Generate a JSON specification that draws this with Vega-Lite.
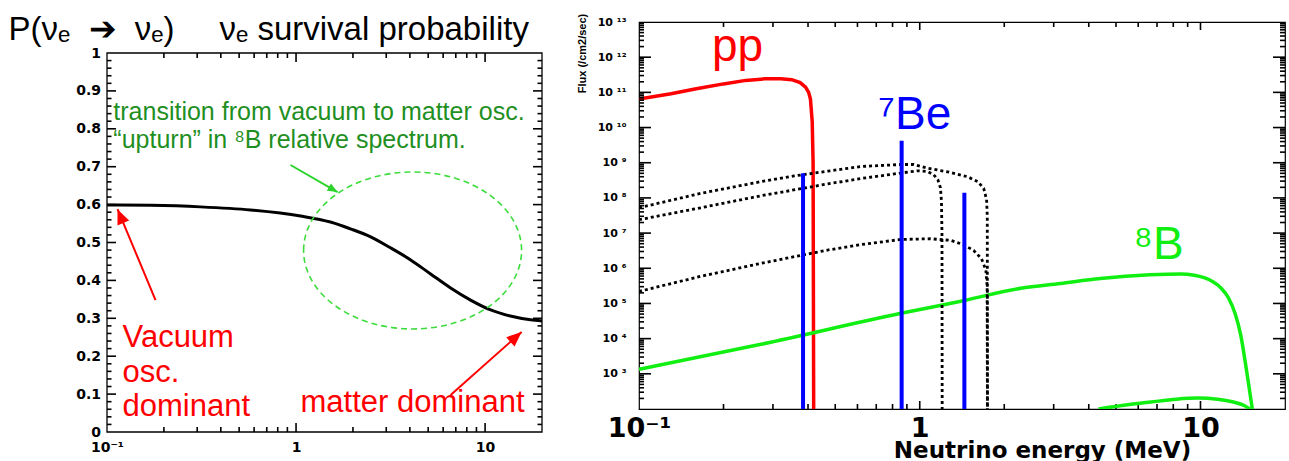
{
  "$schema": "https://vega.github.io/schema/vega-lite/v6.json",
  "background": "white",
  "padding": {"left": 8, "top": 12, "right": 4, "bottom": 0},
  "spacing": 32,
  "config": {
    "view": {"stroke": "#000000", "strokeWidth": 1.2},
    "axis": {"grid": false, "domain": false, "labelColor": "#000000", "titleColor": "#000000"},
    "font": "Liberation Sans"
  },
  "resolve": {"scale": {"color": "independent"}},
  "datasets": {
    "heading": [
      {"label": "P(νₑ\u00a0\u00a0➔\u00a0\u00a0νₑ)", "E": 0.0301, "P": 1.034},
      {"label": "νₑ survival probability", "E": 0.3937, "P": 1.034}
    ],
    "frame": [{"E0": 0.1, "E1": 20, "P0": 0, "P1": 1}],
    "xMajor": [{"v": 1}, {"v": 10}],
    "xMinor": [
      {"v": 0.2}, {"v": 0.3}, {"v": 0.4}, {"v": 0.5}, {"v": 0.6}, {"v": 0.7}, {"v": 0.8}, {"v": 0.9},
      {"v": 2}, {"v": 3}, {"v": 4}, {"v": 5}, {"v": 6}, {"v": 7}, {"v": 8}, {"v": 9}
    ],
    "pMajor": [{"v": 0.1}, {"v": 0.2}, {"v": 0.3}, {"v": 0.4}, {"v": 0.5}, {"v": 0.6}, {"v": 0.7}, {"v": 0.8}, {"v": 0.9}],
    "pMinor": [
      {"v": 0.02}, {"v": 0.04}, {"v": 0.06}, {"v": 0.08}, {"v": 0.12}, {"v": 0.14}, {"v": 0.16}, {"v": 0.18},
      {"v": 0.22}, {"v": 0.24}, {"v": 0.26}, {"v": 0.28}, {"v": 0.32}, {"v": 0.34}, {"v": 0.36}, {"v": 0.38},
      {"v": 0.42}, {"v": 0.44}, {"v": 0.46}, {"v": 0.48}, {"v": 0.52}, {"v": 0.54}, {"v": 0.56}, {"v": 0.58},
      {"v": 0.62}, {"v": 0.64}, {"v": 0.66}, {"v": 0.68}, {"v": 0.72}, {"v": 0.74}, {"v": 0.76}, {"v": 0.78},
      {"v": 0.82}, {"v": 0.84}, {"v": 0.86}, {"v": 0.88}, {"v": 0.92}, {"v": 0.94}, {"v": 0.96}, {"v": 0.98}
    ],
    "fMajor": [{"v": 1e3}, {"v": 1e4}, {"v": 1e5}, {"v": 1e6}, {"v": 1e7}, {"v": 1e8}, {"v": 1e9}, {"v": 1e10}, {"v": 1e11}, {"v": 1e12}],
    "fMinor": [
      {"v": 2e2}, {"v": 3e2}, {"v": 4e2}, {"v": 5e2}, {"v": 6e2}, {"v": 7e2}, {"v": 8e2}, {"v": 9e2},
      {"v": 2e3}, {"v": 3e3}, {"v": 4e3}, {"v": 5e3}, {"v": 6e3}, {"v": 7e3}, {"v": 8e3}, {"v": 9e3},
      {"v": 2e4}, {"v": 3e4}, {"v": 4e4}, {"v": 5e4}, {"v": 6e4}, {"v": 7e4}, {"v": 8e4}, {"v": 9e4},
      {"v": 2e5}, {"v": 3e5}, {"v": 4e5}, {"v": 5e5}, {"v": 6e5}, {"v": 7e5}, {"v": 8e5}, {"v": 9e5},
      {"v": 2e6}, {"v": 3e6}, {"v": 4e6}, {"v": 5e6}, {"v": 6e6}, {"v": 7e6}, {"v": 8e6}, {"v": 9e6},
      {"v": 2e7}, {"v": 3e7}, {"v": 4e7}, {"v": 5e7}, {"v": 6e7}, {"v": 7e7}, {"v": 8e7}, {"v": 9e7},
      {"v": 2e8}, {"v": 3e8}, {"v": 4e8}, {"v": 5e8}, {"v": 6e8}, {"v": 7e8}, {"v": 8e8}, {"v": 9e8},
      {"v": 2e9}, {"v": 3e9}, {"v": 4e9}, {"v": 5e9}, {"v": 6e9}, {"v": 7e9}, {"v": 8e9}, {"v": 9e9},
      {"v": 2e10}, {"v": 3e10}, {"v": 4e10}, {"v": 5e10}, {"v": 6e10}, {"v": 7e10}, {"v": 8e10}, {"v": 9e10},
      {"v": 2e11}, {"v": 3e11}, {"v": 4e11}, {"v": 5e11}, {"v": 6e11}, {"v": 7e11}, {"v": 8e11}, {"v": 9e11},
      {"v": 2e12}, {"v": 3e12}, {"v": 4e12}, {"v": 5e12}, {"v": 6e12}, {"v": 7e12}, {"v": 8e12}, {"v": 9e12}
    ],
    "survival": [
      {"E": 0.1, "P": 0.599}, {"E": 0.17, "P": 0.598}, {"E": 0.312, "P": 0.594}, {"E": 0.574, "P": 0.586},
      {"E": 1.057, "P": 0.570}, {"E": 1.52, "P": 0.554}, {"E": 1.94, "P": 0.536}, {"E": 2.48, "P": 0.515},
      {"E": 3.16, "P": 0.486}, {"E": 4.04, "P": 0.454}, {"E": 5.15, "P": 0.417}, {"E": 6.57, "P": 0.380},
      {"E": 8.38, "P": 0.348}, {"E": 10.7, "P": 0.322}, {"E": 13.6, "P": 0.306}, {"E": 17.4, "P": 0.296},
      {"E": 20, "P": 0.293}
    ],
    "ellipse": [{"E": 4.135, "P": 0.479}],
    "arrows": [
      {"arrow": "vacuum", "E": 0.1806, "P": 0.348, "E2": 0.1137, "P2": 0.588},
      {"arrow": "matter", "E": 6.57, "P": 0.0976, "E2": 15.6, "P2": 0.264},
      {"arrow": "transition", "E": 0.935, "P": 0.7045, "E2": 1.658, "P2": 0.633}
    ],
    "notesTransition": [
      {"label": "transition from vacuum to matter osc.", "E": 0.108, "P": 0.823},
      {"label": "“upturn” in ⁸B relative spectrum.", "E": 0.108, "P": 0.75}
    ],
    "notesRegime": [
      {"label": "Vacuum\nosc.\ndominant", "E": 0.1208, "P": 0.224},
      {"label": "matter dominant", "E": 1.056, "P": 0.053}
    ],
    "pp": [
      {"E": 0.1, "F": 6.5e10}, {"E": 0.13, "F": 9.1e10}, {"E": 0.16, "F": 1.26e11}, {"E": 0.2, "F": 1.74e11},
      {"E": 0.24, "F": 2.19e11}, {"E": 0.28, "F": 2.42e11}, {"E": 0.32, "F": 2.45e11}, {"E": 0.35, "F": 2.29e11},
      {"E": 0.375, "F": 1.9e11}, {"E": 0.392, "F": 1.41e11}, {"E": 0.402, "F": 1.0e11}, {"E": 0.408, "F": 6.5e10},
      {"E": 0.414, "F": 1.45e10}, {"E": 0.417, "F": 1e9}, {"E": 0.419, "F": 100}
    ],
    "b8": [
      {"E": 0.1, "F": 1350}, {"E": 0.272, "F": 6900}, {"E": 0.857, "F": 52500}, {"E": 1.43, "F": 120000},
      {"E": 2.29, "F": 270000}, {"E": 3.17, "F": 370000}, {"E": 4.4, "F": 510000}, {"E": 6.6, "F": 650000},
      {"E": 8.5, "F": 690000}, {"E": 9.5, "F": 630000}, {"E": 10.7, "F": 480000}, {"E": 11.8, "F": 280000},
      {"E": 12.6, "F": 141000}, {"E": 13.3, "F": 50000}, {"E": 13.9, "F": 13000}, {"E": 14.6, "F": 1200},
      {"E": 15.3, "F": 100}
    ],
    "hep": [
      {"E": 4.33, "F": 100}, {"E": 5.5, "F": 132}, {"E": 6.66, "F": 158}, {"E": 8.2, "F": 190},
      {"E": 9.8, "F": 204}, {"E": 11.5, "F": 190}, {"E": 13.1, "F": 158}, {"E": 14.3, "F": 126}, {"E": 15.0, "F": 100}
    ],
    "cno": [
      {"src": "O15", "E": 0.1, "F": 5.25e7}, {"src": "O15", "E": 0.166, "F": 1.35e8}, {"src": "O15", "E": 0.272, "F": 2.9e8},
      {"src": "O15", "E": 0.356, "F": 4.2e8}, {"src": "O15", "E": 0.47, "F": 5.75e8}, {"src": "O15", "E": 0.617, "F": 7.8e8},
      {"src": "O15", "E": 0.857, "F": 8.9e8}, {"src": "O15", "E": 0.952, "F": 8.9e8}, {"src": "O15", "E": 1.066, "F": 7.0e8},
      {"src": "O15", "E": 1.257, "F": 5.5e8}, {"src": "O15", "E": 1.48, "F": 4.0e8}, {"src": "O15", "E": 1.61, "F": 2.9e8},
      {"src": "O15", "E": 1.69, "F": 1.86e8}, {"src": "O15", "E": 1.73, "F": 9e7}, {"src": "O15", "E": 1.74, "F": 3e7},
      {"src": "O15", "E": 1.743, "F": 100},
      {"src": "N13", "E": 0.1, "F": 2.4e7}, {"src": "N13", "E": 0.166, "F": 5.25e7}, {"src": "N13", "E": 0.272, "F": 1.15e8},
      {"src": "N13", "E": 0.47, "F": 2.5e8}, {"src": "N13", "E": 0.617, "F": 3.55e8}, {"src": "N13", "E": 0.857, "F": 5.1e8},
      {"src": "N13", "E": 0.984, "F": 5.9e8}, {"src": "N13", "E": 1.066, "F": 5.6e8}, {"src": "N13", "E": 1.12, "F": 4.6e8},
      {"src": "N13", "E": 1.16, "F": 3.3e8}, {"src": "N13", "E": 1.185, "F": 1.95e8}, {"src": "N13", "E": 1.195, "F": 7.9e7},
      {"src": "N13", "E": 1.2, "F": 1e7}, {"src": "N13", "E": 1.202, "F": 100},
      {"src": "F17", "E": 0.1, "F": 2.2e5}, {"src": "F17", "E": 0.166, "F": 5.9e5}, {"src": "F17", "E": 0.272, "F": 1.38e6},
      {"src": "F17", "E": 0.47, "F": 3.3e6}, {"src": "F17", "E": 0.617, "F": 4.7e6}, {"src": "F17", "E": 0.857, "F": 6.6e6},
      {"src": "F17", "E": 1.092, "F": 6.9e6}, {"src": "F17", "E": 1.29, "F": 6.2e6}, {"src": "F17", "E": 1.43, "F": 4.7e6},
      {"src": "F17", "E": 1.557, "F": 3.2e6}, {"src": "F17", "E": 1.66, "F": 1.86e6}, {"src": "F17", "E": 1.72, "F": 8.9e5},
      {"src": "F17", "E": 1.738, "F": 3.2e5}, {"src": "F17", "E": 1.742, "F": 100}
    ],
    "lines": [
      {"source": "Be7", "E": 0.384, "F": 5.0e8},
      {"source": "Be7", "E": 0.862, "F": 4.2e9},
      {"source": "pep", "E": 1.442, "F": 1.4e8}
    ],
    "labels": [
      {"label": "pp", "E": 0.2245, "F": 7.8e11},
      {"label": "⁷Be", "E": 0.96, "F": 9.2e9},
      {"label": "⁸B", "E": 7.09, "F": 1.78e6}
    ]
  },
  "hconcat": [
    {
      "width": 435,
      "height": 410,
      "view": {"stroke": null},
      "resolve": {"axis": {"x": "independent", "y": "independent"}},
      "layer": [
        {
          "data": {"name": "frame"},
          "mark": {"type": "rect", "filled": false, "stroke": "#000000", "strokeWidth": 1.3},
          "encoding": {
            "x": {"field": "E0", "type": "quantitative", "scale": {"type": "log", "domain": [0.1, 20], "nice": false},
              "axis": {"orient": "bottom", "values": [0.1, 1, 10], "labelExpr": "datum.value < 0.5 ? '10⁻¹' : datum.value < 5 ? '1' : '10'",
                "ticks": false, "labelPadding": 8, "labelFont": "DejaVu Sans", "labelFontWeight": "bold", "labelFontSize": 14,
                "labelFlush": false, "labelOverlap": false, "title": null}},
            "x2": {"field": "E1"},
            "y": {"field": "P0", "type": "quantitative", "scale": {"domain": [0, 1.0818], "nice": false, "zero": false},
              "axis": {"orient": "left", "values": [0, 0.1, 0.2, 0.3, 0.4, 0.5, 0.6, 0.7, 0.8, 0.9, 1], "format": ".1~f",
                "ticks": false, "labelPadding": 6.5, "labelFont": "DejaVu Sans", "labelFontWeight": "bold", "labelFontSize": 14,
                "labelOverlap": false, "title": null}},
            "y2": {"field": "P1"}
          }
        },
        {
          "data": {"name": "xMajor"},
          "mark": {"type": "rule", "color": "#000000", "strokeWidth": 1.6, "y2Offset": -9},
          "encoding": {
            "x": {"field": "v", "type": "quantitative", "scale": {"type": "log", "domain": [0.1, 20], "nice": false}, "axis": null},
            "y": {"datum": 0, "type": "quantitative", "scale": {"domain": [0, 1.0818], "nice": false, "zero": false}, "axis": null},
            "y2": {"datum": 0}
          }
        },
        {
          "data": {"name": "xMajor"},
          "mark": {"type": "rule", "color": "#000000", "strokeWidth": 1.6, "y2Offset": 9},
          "encoding": {
            "x": {"field": "v", "type": "quantitative", "scale": {"type": "log", "domain": [0.1, 20], "nice": false}, "axis": null},
            "y": {"datum": 1, "type": "quantitative", "scale": {"domain": [0, 1.0818], "nice": false, "zero": false}, "axis": null},
            "y2": {"datum": 1}
          }
        },
        {
          "data": {"name": "xMinor"},
          "mark": {"type": "rule", "color": "#000000", "strokeWidth": 1.6, "y2Offset": -5},
          "encoding": {
            "x": {"field": "v", "type": "quantitative", "scale": {"type": "log", "domain": [0.1, 20], "nice": false}, "axis": null},
            "y": {"datum": 0, "type": "quantitative", "scale": {"domain": [0, 1.0818], "nice": false, "zero": false}, "axis": null},
            "y2": {"datum": 0}
          }
        },
        {
          "data": {"name": "xMinor"},
          "mark": {"type": "rule", "color": "#000000", "strokeWidth": 1.6, "y2Offset": 5},
          "encoding": {
            "x": {"field": "v", "type": "quantitative", "scale": {"type": "log", "domain": [0.1, 20], "nice": false}, "axis": null},
            "y": {"datum": 1, "type": "quantitative", "scale": {"domain": [0, 1.0818], "nice": false, "zero": false}, "axis": null},
            "y2": {"datum": 1}
          }
        },
        {
          "data": {"name": "pMajor"},
          "mark": {"type": "rule", "color": "#000000", "strokeWidth": 1.6, "x2Offset": 9},
          "encoding": {
            "y": {"field": "v", "type": "quantitative", "scale": {"domain": [0, 1.0818], "nice": false, "zero": false}, "axis": null},
            "x": {"datum": 0.1, "type": "quantitative", "scale": {"type": "log", "domain": [0.1, 20], "nice": false}, "axis": null},
            "x2": {"datum": 0.1}
          }
        },
        {
          "data": {"name": "pMajor"},
          "mark": {"type": "rule", "color": "#000000", "strokeWidth": 1.6, "x2Offset": -9},
          "encoding": {
            "y": {"field": "v", "type": "quantitative", "scale": {"domain": [0, 1.0818], "nice": false, "zero": false}, "axis": null},
            "x": {"datum": 20, "type": "quantitative", "scale": {"type": "log", "domain": [0.1, 20], "nice": false}, "axis": null},
            "x2": {"datum": 20}
          }
        },
        {
          "data": {"name": "pMinor"},
          "mark": {"type": "rule", "color": "#000000", "strokeWidth": 1.6, "x2Offset": 4.5},
          "encoding": {
            "y": {"field": "v", "type": "quantitative", "scale": {"domain": [0, 1.0818], "nice": false, "zero": false}, "axis": null},
            "x": {"datum": 0.1, "type": "quantitative", "scale": {"type": "log", "domain": [0.1, 20], "nice": false}, "axis": null},
            "x2": {"datum": 0.1}
          }
        },
        {
          "data": {"name": "pMinor"},
          "mark": {"type": "rule", "color": "#000000", "strokeWidth": 1.6, "x2Offset": -4.5},
          "encoding": {
            "y": {"field": "v", "type": "quantitative", "scale": {"domain": [0, 1.0818], "nice": false, "zero": false}, "axis": null},
            "x": {"datum": 20, "type": "quantitative", "scale": {"type": "log", "domain": [0.1, 20], "nice": false}, "axis": null},
            "x2": {"datum": 20}
          }
        },
        {
          "data": {"name": "survival"},
          "mark": {"type": "line", "color": "#000000", "strokeWidth": 3, "interpolate": "monotone", "clip": true},
          "encoding": {
            "x": {"field": "E", "type": "quantitative", "scale": {"type": "log", "domain": [0.1, 20], "nice": false}, "axis": null},
            "y": {"field": "P", "type": "quantitative", "scale": {"domain": [0, 1.0818], "nice": false, "zero": false}, "axis": null}
          }
        },
        {
          "data": {"name": "ellipse"},
          "mark": {"type": "point", "shape": "M -1 0 C -1 -0.398 -0.552 -0.72 0 -0.72 C 0.552 -0.72 1 -0.398 1 0 C 1 0.398 0.552 0.72 0 0.72 C -0.552 0.72 -1 0.398 -1 0 Z",
            "size": 47524, "filled": false, "color": "#3ddc3d", "strokeWidth": 1.6, "strokeDash": [6, 4], "opacity": 1},
          "encoding": {
            "x": {"field": "E", "type": "quantitative", "scale": {"type": "log", "domain": [0.1, 20], "nice": false}, "axis": null},
            "y": {"field": "P", "type": "quantitative", "scale": {"domain": [0, 1.0818], "nice": false, "zero": false}, "axis": null}
          }
        },
        {
          "data": {"name": "arrows"},
          "mark": {"type": "rule", "strokeWidth": 2},
          "encoding": {
            "x": {"field": "E", "type": "quantitative", "scale": {"type": "log", "domain": [0.1, 20], "nice": false}, "axis": null},
            "y": {"field": "P", "type": "quantitative", "scale": {"domain": [0, 1.0818], "nice": false, "zero": false}, "axis": null},
            "x2": {"field": "E2"},
            "y2": {"field": "P2"},
            "color": {"field": "arrow", "type": "nominal", "legend": null,
              "scale": {"domain": ["vacuum", "matter", "transition"], "range": ["#ff0000", "#ff0000", "#2bd42b"]}}
          }
        },
        {
          "data": {"name": "arrows"},
          "transform": [{"filter": "datum.arrow == 'vacuum'"}],
          "mark": {"type": "point", "shape": "M 0 0 L -0.42 1 L 0.42 1 Z", "size": 900, "filled": true, "color": "#ff0000", "angle": 337.4, "opacity": 1},
          "encoding": {
            "x": {"field": "E2", "type": "quantitative", "scale": {"type": "log", "domain": [0.1, 20], "nice": false}, "axis": null},
            "y": {"field": "P2", "type": "quantitative", "scale": {"domain": [0, 1.0818], "nice": false, "zero": false}, "axis": null}
          }
        },
        {
          "data": {"name": "arrows"},
          "transform": [{"filter": "datum.arrow == 'matter'"}],
          "mark": {"type": "point", "shape": "M 0 0 L -0.42 1 L 0.42 1 Z", "size": 900, "filled": true, "color": "#ff0000", "angle": 48.4, "opacity": 1},
          "encoding": {
            "x": {"field": "E2", "type": "quantitative", "scale": {"type": "log", "domain": [0.1, 20], "nice": false}, "axis": null},
            "y": {"field": "P2", "type": "quantitative", "scale": {"domain": [0, 1.0818], "nice": false, "zero": false}, "axis": null}
          }
        },
        {
          "data": {"name": "arrows"},
          "transform": [{"filter": "datum.arrow == 'transition'"}],
          "mark": {"type": "point", "shape": "M 0 0 L -0.42 1 L 0.42 1 Z", "size": 400, "filled": true, "color": "#2bd42b", "angle": 119.9, "opacity": 1},
          "encoding": {
            "x": {"field": "E2", "type": "quantitative", "scale": {"type": "log", "domain": [0.1, 20], "nice": false}, "axis": null},
            "y": {"field": "P2", "type": "quantitative", "scale": {"domain": [0, 1.0818], "nice": false, "zero": false}, "axis": null}
          }
        },
        {
          "data": {"name": "heading"},
          "mark": {"type": "text", "align": "left", "baseline": "alphabetic", "fontSize": 33, "color": "#000000", "font": "Liberation Sans"},
          "encoding": {
            "x": {"field": "E", "type": "quantitative", "scale": {"type": "log", "domain": [0.1, 20], "nice": false}, "axis": null},
            "y": {"field": "P", "type": "quantitative", "scale": {"domain": [0, 1.0818], "nice": false, "zero": false}, "axis": null},
            "text": {"field": "label"}
          }
        },
        {
          "data": {"name": "notesTransition"},
          "mark": {"type": "text", "align": "left", "baseline": "alphabetic", "fontSize": 25, "color": "#1f8f1f", "font": "Liberation Sans"},
          "encoding": {
            "x": {"field": "E", "type": "quantitative", "scale": {"type": "log", "domain": [0.1, 20], "nice": false}, "axis": null},
            "y": {"field": "P", "type": "quantitative", "scale": {"domain": [0, 1.0818], "nice": false, "zero": false}, "axis": null},
            "text": {"field": "label"}
          }
        },
        {
          "data": {"name": "notesRegime"},
          "mark": {"type": "text", "align": "left", "baseline": "alphabetic", "fontSize": 31, "color": "#ff0000", "font": "Liberation Sans", "lineBreak": "\n", "lineHeight": 34.5},
          "encoding": {
            "x": {"field": "E", "type": "quantitative", "scale": {"type": "log", "domain": [0.1, 20], "nice": false}, "axis": null},
            "y": {"field": "P", "type": "quantitative", "scale": {"domain": [0, 1.0818], "nice": false, "zero": false}, "axis": null},
            "text": {"field": "label"}
          }
        }
      ]
    },
    {
      "width": 646,
      "height": 387,
      "resolve": {"axis": {"x": "independent", "y": "independent"}},
      "layer": [
        {
          "data": {"name": "pp"},
          "mark": {"type": "line", "color": "#ff0000", "strokeWidth": 3.5, "clip": true},
          "encoding": {
            "x": {"field": "E", "type": "quantitative", "scale": {"type": "log", "domain": [0.1, 20], "nice": false},
              "axis": {"orient": "bottom", "values": [0.1, 1, 10], "labelExpr": "datum.value < 0.5 ? '10⁻¹' : datum.value < 5 ? '1' : '10'",
                "ticks": false, "labelPadding": 6, "labelFont": "DejaVu Sans", "labelFontWeight": "bold", "labelFontSize": 27,
                "labelFlush": false, "labelOverlap": false,
                "title": "Neutrino energy (MeV)", "titleFont": "DejaVu Sans", "titleFontWeight": "bold", "titleFontSize": 23,
                "titleX": 403, "titleY": 48, "titleAlign": "center", "titleBaseline": "alphabetic"}},
            "y": {"field": "F", "type": "quantitative", "scale": {"type": "log", "domain": [100, 1e13], "nice": false},
              "axis": {"orient": "left", "values": [1e3, 1e4, 1e5, 1e6, 1e7, 1e8, 1e9, 1e10, 1e11, 1e12, 1e13],
                "labelExpr": "'10 ' + ['⁰','¹','²','³','⁴','⁵','⁶','⁷','⁸','⁹','¹⁰','¹¹','¹²','¹³'][round(log(datum.value)/LN10)]",
                "ticks": false, "labelPadding": 13, "labelFont": "DejaVu Sans", "labelFontWeight": "bold", "labelFontSize": 11,
                "labelOverlap": false,
                "title": "Flux (/cm2/sec)", "titleFont": "Liberation Sans Narrow, Liberation Sans", "titleFontWeight": "bold", "titleFontSize": 11,
                "titleX": -57, "titleY": 31, "titleAngle": -90, "titleAlign": "center", "titleBaseline": "middle"}}
          }
        },
        {
          "data": {"name": "xMajor"},
          "mark": {"type": "rule", "color": "#000000", "strokeWidth": 1.6, "y2Offset": -8},
          "encoding": {
            "x": {"field": "v", "type": "quantitative", "scale": {"type": "log", "domain": [0.1, 20], "nice": false}, "axis": null},
            "y": {"datum": 100, "type": "quantitative", "scale": {"type": "log", "domain": [100, 1e13], "nice": false}, "axis": null},
            "y2": {"datum": 100}
          }
        },
        {
          "data": {"name": "xMajor"},
          "mark": {"type": "rule", "color": "#000000", "strokeWidth": 1.6, "y2Offset": 8},
          "encoding": {
            "x": {"field": "v", "type": "quantitative", "scale": {"type": "log", "domain": [0.1, 20], "nice": false}, "axis": null},
            "y": {"datum": 1e13, "type": "quantitative", "scale": {"type": "log", "domain": [100, 1e13], "nice": false}, "axis": null},
            "y2": {"datum": 1e13}
          }
        },
        {
          "data": {"name": "xMinor"},
          "mark": {"type": "rule", "color": "#000000", "strokeWidth": 1.6, "y2Offset": -5},
          "encoding": {
            "x": {"field": "v", "type": "quantitative", "scale": {"type": "log", "domain": [0.1, 20], "nice": false}, "axis": null},
            "y": {"datum": 100, "type": "quantitative", "scale": {"type": "log", "domain": [100, 1e13], "nice": false}, "axis": null},
            "y2": {"datum": 100}
          }
        },
        {
          "data": {"name": "xMinor"},
          "mark": {"type": "rule", "color": "#000000", "strokeWidth": 1.6, "y2Offset": 5},
          "encoding": {
            "x": {"field": "v", "type": "quantitative", "scale": {"type": "log", "domain": [0.1, 20], "nice": false}, "axis": null},
            "y": {"datum": 1e13, "type": "quantitative", "scale": {"type": "log", "domain": [100, 1e13], "nice": false}, "axis": null},
            "y2": {"datum": 1e13}
          }
        },
        {
          "data": {"name": "fMajor"},
          "mark": {"type": "rule", "color": "#000000", "strokeWidth": 1.6, "x2Offset": 12},
          "encoding": {
            "y": {"field": "v", "type": "quantitative", "scale": {"type": "log", "domain": [100, 1e13], "nice": false}, "axis": null},
            "x": {"datum": 0.1, "type": "quantitative", "scale": {"type": "log", "domain": [0.1, 20], "nice": false}, "axis": null},
            "x2": {"datum": 0.1}
          }
        },
        {
          "data": {"name": "fMajor"},
          "mark": {"type": "rule", "color": "#000000", "strokeWidth": 1.6, "x2Offset": -12},
          "encoding": {
            "y": {"field": "v", "type": "quantitative", "scale": {"type": "log", "domain": [100, 1e13], "nice": false}, "axis": null},
            "x": {"datum": 20, "type": "quantitative", "scale": {"type": "log", "domain": [0.1, 20], "nice": false}, "axis": null},
            "x2": {"datum": 20}
          }
        },
        {
          "data": {"name": "fMinor"},
          "mark": {"type": "rule", "color": "#000000", "strokeWidth": 1.6, "x2Offset": 5},
          "encoding": {
            "y": {"field": "v", "type": "quantitative", "scale": {"type": "log", "domain": [100, 1e13], "nice": false}, "axis": null},
            "x": {"datum": 0.1, "type": "quantitative", "scale": {"type": "log", "domain": [0.1, 20], "nice": false}, "axis": null},
            "x2": {"datum": 0.1}
          }
        },
        {
          "data": {"name": "fMinor"},
          "mark": {"type": "rule", "color": "#000000", "strokeWidth": 1.6, "x2Offset": -5},
          "encoding": {
            "y": {"field": "v", "type": "quantitative", "scale": {"type": "log", "domain": [100, 1e13], "nice": false}, "axis": null},
            "x": {"datum": 20, "type": "quantitative", "scale": {"type": "log", "domain": [0.1, 20], "nice": false}, "axis": null},
            "x2": {"datum": 20}
          }
        },
        {
          "data": {"name": "b8"},
          "mark": {"type": "line", "color": "#11ee11", "strokeWidth": 3.5, "interpolate": "monotone", "clip": true},
          "encoding": {
            "x": {"field": "E", "type": "quantitative", "scale": {"type": "log", "domain": [0.1, 20], "nice": false}, "axis": null},
            "y": {"field": "F", "type": "quantitative", "scale": {"type": "log", "domain": [100, 1e13], "nice": false}, "axis": null}
          }
        },
        {
          "data": {"name": "hep"},
          "mark": {"type": "line", "color": "#11ee11", "strokeWidth": 3.5, "interpolate": "monotone", "clip": true},
          "encoding": {
            "x": {"field": "E", "type": "quantitative", "scale": {"type": "log", "domain": [0.1, 20], "nice": false}, "axis": null},
            "y": {"field": "F", "type": "quantitative", "scale": {"type": "log", "domain": [100, 1e13], "nice": false}, "axis": null}
          }
        },
        {
          "data": {"name": "cno"},
          "mark": {"type": "line", "color": "#000000", "strokeWidth": 2.8, "strokeDash": [3, 3], "clip": true},
          "encoding": {
            "detail": {"field": "src"},
            "x": {"field": "E", "type": "quantitative", "scale": {"type": "log", "domain": [0.1, 20], "nice": false}, "axis": null},
            "y": {"field": "F", "type": "quantitative", "scale": {"type": "log", "domain": [100, 1e13], "nice": false}, "axis": null}
          }
        },
        {
          "data": {"name": "lines"},
          "mark": {"type": "rule", "color": "#0000ff", "strokeWidth": 4, "clip": true},
          "encoding": {
            "x": {"field": "E", "type": "quantitative", "scale": {"type": "log", "domain": [0.1, 20], "nice": false}, "axis": null},
            "y": {"field": "F", "type": "quantitative", "scale": {"type": "log", "domain": [100, 1e13], "nice": false}, "axis": null},
            "y2": {"datum": 100}
          }
        },
        {
          "data": {"name": "labels"},
          "mark": {"type": "text", "align": "center", "baseline": "alphabetic", "fontSize": 46, "font": "Liberation Sans"},
          "encoding": {
            "x": {"field": "E", "type": "quantitative", "scale": {"type": "log", "domain": [0.1, 20], "nice": false}, "axis": null},
            "y": {"field": "F", "type": "quantitative", "scale": {"type": "log", "domain": [100, 1e13], "nice": false}, "axis": null},
            "text": {"field": "label"},
            "color": {"field": "label", "type": "nominal", "legend": null,
              "scale": {"domain": ["pp", "⁷Be", "⁸B"], "range": ["#ff0000", "#0000ff", "#11ee11"]}}
          }
        }
      ]
    }
  ]
}
